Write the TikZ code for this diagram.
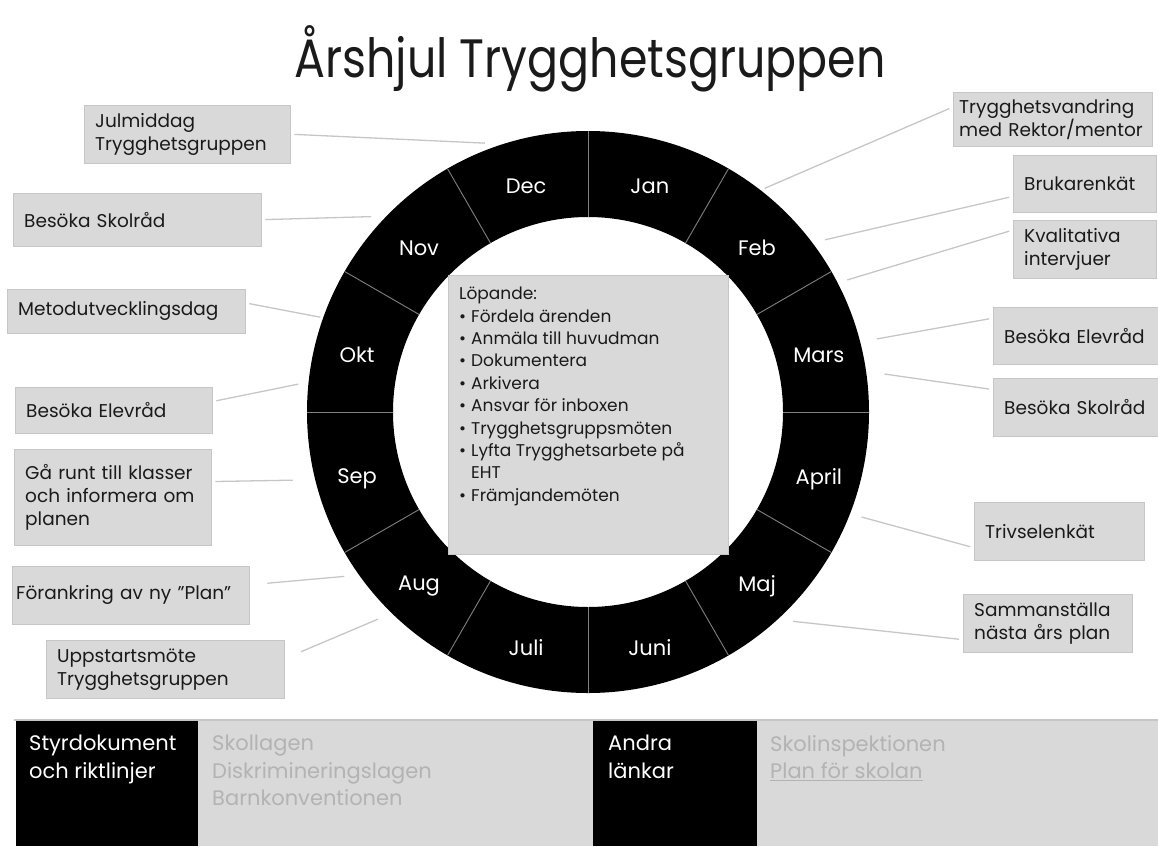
\documentclass[tikz,border=0pt]{standalone}
\usepackage{fontspec}
\setmainfont{Poppins}
\newfontfamily\titlefont[FakeStretch=0.85]{Poppins}
\usetikzlibrary{positioning}
\definecolor{boxgray}{HTML}{D9D9D9}
\definecolor{linegray}{HTML}{C6C6C6}
\definecolor{linkgray}{HTML}{B3B3B3}
\definecolor{ink}{HTML}{1A1A1A}
\newcommand{\itm}{\makebox[12pt][l]{\textbullet}}
\tikzset{>=stealth,
  event/.style={draw=linegray, fill=boxgray, text=ink, anchor=north west, align=left,
    inner xsep=11pt, font=\fontsize{18.5}{23}\selectfont},
  leader/.style={draw=linegray, line width=1.3pt, shorten <=4pt},
  month/.style={text=white, font=\fontsize{21}{24}\selectfont},
  spoke/.style={draw=gray, line width=0.9pt},
  paneltext/.style={anchor=north west, align=left, inner sep=0pt, font=\fontsize{21}{27.5}\selectfont}
}

\begin{document}
\begin{tikzpicture}[x=1pt, y=1pt]
\useasboundingbox (0,0) rectangle (1158,-846);
\node[anchor=base, text=ink, font=\titlefont\fontsize{54}{60}\selectfont] (title) at (590,-77) {Årshjul Trygghetsgruppen};

% hjulet
\begin{scope}[shift={(588,-412)}]
\fill[black, even odd rule] (0,0) circle (281pt) (0,0) circle (195pt);
\foreach \a in {0,30,...,330}
  \draw[spoke] (\a:195pt) -- (\a:281pt);
\foreach \m/\a in {Jan/75, Feb/45, Mars/15, April/-15, Maj/-45, Juni/-75,
                   Juli/-105, Aug/-135, Sep/-165, Okt/165, Nov/135, Dec/105}
  \node[month, yshift=-5pt] (m-\m) at (\a:239pt) {\m};
\coordinate (w-jul) at (111:288pt);
\coordinate (w-skolL) at (138:292pt);
\coordinate (w-metod) at (160.5:284pt);
\coordinate (w-elevL) at (174.5:291pt);
\coordinate (w-garunt) at (193:303pt);
\coordinate (w-forank) at (214:294pt);
\coordinate (w-uppst) at (224.6:295pt);
\coordinate (w-tryggv) at (51.7:285pt);
\coordinate (w-bruk) at (36:293pt);
\coordinate (w-kval) at (27:291pt);
\coordinate (w-elevR) at (14.2:298pt);
\coordinate (w-skolR) at (7.3:299pt);
\coordinate (w-trivsel) at (-21:293pt);
\coordinate (w-samman) at (-45.6:293pt);
\end{scope}

% löpande
\node[draw=linegray, fill=boxgray, anchor=north west, minimum width=280, minimum height=279] (lop) at (448,-275) {};
\node[anchor=north west, align=left, text=ink, inner sep=0pt, font=\fontsize{17}{22.4}\selectfont] (lopt) at (459,-287)
  {Löpande:\\ \itm Fördela ärenden\\ \itm Anmäla till huvudman\\ \itm Dokumentera\\ \itm Arkivera\\
   \itm Ansvar för inboxen\\ \itm Trygghetsgruppsmöten\\ \itm Lyfta Trygghetsarbete på\\ \hspace*{12pt}EHT\\
   \itm Främjandemöten};

% vänster sida
\node[event, minimum width=206, minimum height=58, text width=184] (jul) at (84,-105) {Julmiddag\\Trygghetsgruppen};
\node[event, minimum width=248, minimum height=53, text width=226] (skolL) at (13,-193) {Besöka Skolråd};
\node[event, minimum width=238, minimum height=44, text width=216] (metod) at (7,-289) {Metodutvecklingsdag};
\node[event, minimum width=197, minimum height=46, text width=175] (elevL) at (15,-387) {Besöka Elevråd};
\node[event, minimum width=197, minimum height=96, text width=175] (garunt) at (14,-449) {Gå runt till klasser\\och informera om\\planen};
\node[event, minimum width=237, minimum height=58, text width=229, inner xsep=4pt] (forank) at (12,-566) {Förankring av ny ”Plan”};
\node[event, minimum width=238, minimum height=58, text width=216] (uppst) at (46,-640) {Uppstartsmöte\\Trygghetsgruppen};

% höger sida
\node[event, minimum width=199, minimum height=54, text width=187, inner xsep=6pt] (tryggv) at (953,-92) {Trygghetsvandring\\med Rektor/mentor};
\node[event, minimum width=143, minimum height=57, text width=121] (bruk) at (1013,-155) {Brukarenkät};
\node[event, minimum width=143, minimum height=58, text width=121] (kval) at (1013,-220) {Kvalitativa\\intervjuer};
\node[event, minimum width=165, minimum height=57, text width=143] (elevR) at (993,-307) {Besöka Elevråd};
\node[event, minimum width=165, minimum height=58, text width=143] (skolR) at (993,-378) {Besöka Skolråd};
\node[event, minimum width=170, minimum height=58, text width=148] (trivsel) at (974,-502) {Trivselenkät};
\node[event, minimum width=169, minimum height=58, text width=147] (samman) at (963,-594) {Sammanställa\\nästa års plan};

\draw[leader] (jul.east) -- (w-jul);
\draw[leader] (skolL.east) -- (w-skolL);
\draw[leader] (metod.4) -- (w-metod);
\draw[leader] (elevL.5) -- (w-elevL);
\draw[leader] (garunt.9) -- (w-garunt);
\draw[leader, shorten <=18pt] (forank.5) -- (w-forank);
\draw[leader, shorten <=18pt] (uppst.5) -- (w-uppst);
\draw[leader] (tryggv.173) -- (w-tryggv);
\draw[leader] (bruk.190) -- (w-bruk);
\draw[leader] (kval.165) -- (w-kval);
\draw[leader] (elevR.168) -- (w-elevR);
\draw[leader] (skolR.168) -- (w-skolR);
\draw[leader] (trivsel.191) -- (w-trivsel);
\draw[leader] (samman.191) -- (w-samman);

% länkar längst ner
\fill[boxgray] (16,-721) rectangle (1158,-846);
\fill[black] (16,-721) rectangle (198,-846);
\fill[black] (593,-721) rectangle (757,-846);
\draw[linegray, line width=2pt] (14,-720) -- (1158,-720);
\node[paneltext, text=white] (styr) at (29,-735) {Styrdokument\\och riktlinjer};
\node[paneltext, text=linkgray] (lagar) at (212,-735) {Skollagen\\Diskrimineringslagen\\Barnkonventionen};
\node[paneltext, text=white] (andra) at (608,-735) {Andra\\länkar};
\node[paneltext, text=linkgray] (lankar) at (770,-735) {Skolinspektionen\\\underline{Plan för skolan}};
\end{tikzpicture}
\end{document}
